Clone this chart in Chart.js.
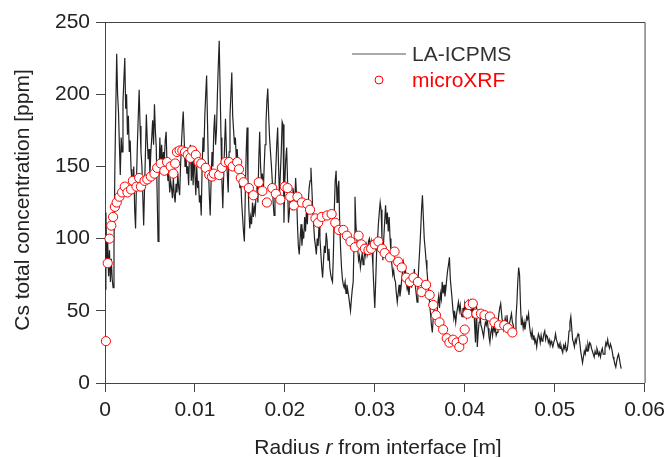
<!DOCTYPE html>
<html>
<head>
<meta charset="utf-8">
<script src="https://cdn.jsdelivr.net/npm/chart.js@4/dist/chart.umd.min.js"></script>
<style>
  html, body { margin: 0; padding: 0; background: #fff; }
  #wrap { position: relative; width: 671px; height: 457px; }
</style>
</head>
<body>
<div id="wrap"><canvas id="csChart" width="671" height="457"></canvas></div>
<script>
// LA-ICPMS profile, sampled every 0.1 mm from the interface (ppm)
const icpStep = 0.0001;
const icpY = [
  65, 118, 84, 98, 74, 92, 70, 86, 72, 66,
  95, 150, 190, 228, 200, 188, 165, 144, 170, 160,
  195, 210, 225, 190, 200, 172, 185, 160, 168, 148,
  140, 135, 150, 120, 107, 140, 165, 185, 203, 178,
  160, 151, 130, 109, 135, 160, 186, 168, 155, 162,
  144, 160, 170, 182, 165, 193, 175, 163, 130, 98,
  140, 170, 152, 165, 150, 160, 155, 168, 174, 150,
  140, 144, 132, 140, 135, 128, 142, 130, 125, 138,
  132, 145, 135, 130, 150, 165, 178, 188, 170, 150,
  158, 145, 150, 137, 160, 165, 140, 155, 137, 160,
  145, 130, 150, 135, 140, 125, 130, 116, 150, 170,
  160, 185, 200, 213, 180, 150, 130, 116, 140, 160,
  150, 175, 186, 165, 175, 200, 220, 237, 204, 170,
  140, 121, 145, 165, 183, 160, 145, 132, 160, 185,
  200, 215, 185, 175, 165, 170, 155, 162, 150, 145,
  135, 140, 125, 115, 105, 98, 130, 160, 177, 140,
  120, 107, 115, 110, 125, 115, 122, 118, 130, 140,
  125, 155, 174, 150, 140, 145, 132, 150, 165, 180,
  195, 204, 185, 170, 160, 151, 140, 125, 116, 135,
  150, 165, 177, 150, 130, 145, 160, 181, 179, 111,
  140, 155, 163, 140, 111, 118, 130, 125, 120, 135,
  130, 125, 142, 130, 110, 95, 89, 100, 110, 95,
  104, 100, 115, 105, 120, 110, 125, 135, 140, 149,
  135, 120, 110, 100, 95, 89, 100, 95, 110, 100,
  90, 80, 73, 85, 95, 90, 104, 98, 85, 93,
  80, 75, 72, 70, 90, 120, 140, 147, 125, 135,
  140, 110, 93, 80, 72, 68, 66, 70, 62, 68,
  64, 60, 55, 50, 58, 65, 70, 100, 129, 110,
  100, 93, 85, 88, 80, 85, 90, 82, 86, 92,
  88, 95, 90, 98, 100, 94, 98, 91, 80, 65,
  52, 70, 90, 98, 110, 118, 125, 120, 100, 85,
  100, 112, 123, 110, 118, 105, 115, 100, 90, 82,
  75, 78, 72, 70, 62, 56, 62, 68, 60, 65,
  72, 78, 83, 75, 80, 70, 65, 68, 61, 68,
  72, 66, 75, 70, 79, 68, 62, 56, 70, 82,
  93, 105, 120, 130, 115, 100, 93, 85, 78, 70,
  65, 55, 48, 40, 35, 45, 51, 44, 50, 46,
  55, 60, 52, 62, 58, 70, 62, 68, 60, 65,
  72, 78, 82, 87, 72, 65, 58, 50, 45, 48,
  42, 48, 52, 56, 50, 54, 48, 46, 52, 48,
  55, 51, 46, 50, 58, 52, 56, 50, 57, 45,
  56, 40, 28, 57, 25, 35, 42, 48, 40, 38,
  35, 32, 38, 42, 40, 45, 38, 32, 28, 35,
  38, 33, 40, 36, 38, 33, 35, 42, 48, 52,
  55, 48, 42, 37, 40, 45, 42, 47, 40, 38,
  42, 45, 48, 42, 40, 36, 37, 45, 55, 70,
  80, 75, 55, 40, 44, 38, 42, 37, 42, 46,
  44, 48, 40, 35, 32, 36, 30, 33, 28, 30,
  25, 30, 34, 32, 28, 33, 29, 30, 34, 36,
  30, 33, 32, 28, 30, 26, 29, 27, 25, 28,
  30, 34, 30, 28, 25, 27, 24, 26, 23, 21,
  26, 24, 27, 22, 23, 28, 36, 42, 46, 38,
  30, 28, 25, 30, 28, 32, 34, 32, 28, 22,
  18, 14, 18, 22, 20, 25, 22, 27, 24, 28,
  27, 24, 22, 20, 18, 22, 20, 24, 22, 19,
  21, 18, 22, 24, 20, 20, 24, 28, 26, 30,
  26, 24, 27, 25, 22, 18, 16, 13, 11, 15,
  18, 20, 17, 13, 10
];

// microXRF spot measurements
const xrfX = [
  0.0001, 0.0003, 0.0005, 0.0007, 0.0009, 0.0011, 0.0013, 0.0016, 0.0019, 0.0022,
  0.0025, 0.0029, 0.0031, 0.0035, 0.0038, 0.0040, 0.0044, 0.0047, 0.0051, 0.0055,
  0.0058, 0.0062, 0.0066, 0.0069, 0.0073, 0.0076, 0.0078, 0.0080, 0.0083, 0.0086,
  0.0089, 0.0092, 0.0095, 0.0097, 0.0101, 0.0104, 0.0107, 0.0112, 0.0116, 0.0119,
  0.0121, 0.0127, 0.0130, 0.0134, 0.0138, 0.0142, 0.0147, 0.0149, 0.0151, 0.0154,
  0.0160, 0.0165, 0.0171, 0.0175, 0.0180, 0.0186, 0.0190, 0.0195, 0.0200, 0.0203,
  0.0206, 0.0210, 0.0214, 0.0219, 0.0225, 0.0228, 0.0234, 0.0237, 0.0241, 0.0247,
  0.0252, 0.0256, 0.0260, 0.0265, 0.0269, 0.0273, 0.0278, 0.0282, 0.0285, 0.0289,
  0.0293, 0.0296, 0.0300, 0.0304, 0.0308, 0.0311, 0.0317, 0.0322, 0.0326, 0.0330,
  0.0335, 0.0339, 0.0343, 0.0348, 0.0352, 0.0357, 0.0361, 0.0365, 0.0368, 0.0372,
  0.0376, 0.0380, 0.0383, 0.0387, 0.0391, 0.0394, 0.0398, 0.0400, 0.0403, 0.0405,
  0.0409, 0.0413, 0.0418, 0.0422, 0.0428, 0.0433, 0.0438, 0.0444, 0.0448, 0.0453
];
const xrfY = [
  29, 83, 100, 109, 115, 122, 125, 129, 132, 136,
  132, 134, 140, 136, 142, 136, 140, 141, 143, 145,
  149, 152, 147, 153, 150, 145, 152, 160, 161, 161,
  160, 158, 156, 161, 158, 153, 152, 149, 144, 143,
  145, 144, 149, 153, 153, 150, 153, 148, 142, 139,
  135, 130, 139, 133, 125, 135, 131, 127, 136, 135,
  129, 123, 129, 125, 124, 120, 114, 111, 115, 116,
  117, 111, 106, 106, 102, 98, 94, 102, 96, 93,
  92, 93, 96, 98, 93, 90, 87, 91, 84, 80,
  73, 70, 73, 70, 63, 68, 61, 54, 47, 42,
  37, 31, 28, 30, 28, 25, 30, 37, 48, 54,
  55, 48, 48, 47, 46, 42, 40, 40, 38, 35
];

const xTicks = [0, 0.01, 0.02, 0.03, 0.04, 0.05, 0.06];
const yTicks = [0, 50, 100, 150, 200, 250];

const fontFamily = '"Liberation Sans", Arial, Helvetica, sans-serif';
const inkColor = '#222222';
const axisColor = '#444444';

const icpPoints = icpY.map((v, i) => ({ x: i * icpStep, y: v }));
const xrfPoints = xrfX.map((x, i) => ({ x: x, y: xrfY[i] }));

// titles, legend and the closing frame lines are drawn by hand
const decorPlugin = {
  id: 'decor',
  afterDraw(chart) {
    const ctx = chart.ctx;
    const area = chart.chartArea;
    ctx.save();
    // top and right frame
    ctx.strokeStyle = axisColor;
    ctx.lineWidth = 1;
    ctx.beginPath();
    ctx.moveTo(area.left, area.top + 0.5);
    ctx.lineTo(area.right + 0.5, area.top + 0.5);
    ctx.lineTo(area.right + 0.5, area.bottom);
    ctx.stroke();

    // y title
    ctx.fillStyle = inkColor;
    ctx.font = '21px ' + fontFamily;
    ctx.textAlign = 'center';
    ctx.textBaseline = 'middle';
    ctx.translate(23, 200);
    ctx.rotate(-Math.PI / 2);
    ctx.fillText('Cs total concentration [ppm]', 0, 0);
    ctx.setTransform(1, 0, 0, 1, 0, 0);

    // x title with italic r
    const parts = [
      { t: 'Radius ', f: '21px ' + fontFamily },
      { t: 'r', f: 'italic 21px ' + fontFamily },
      { t: ' from interface [m]', f: '21px ' + fontFamily }
    ];
    let total = 0;
    parts.forEach(p => { ctx.font = p.f; p.w = ctx.measureText(p.t).width; total += p.w; });
    let cx = 378 - total / 2;
    ctx.textAlign = 'left';
    ctx.textBaseline = 'alphabetic';
    parts.forEach(p => { ctx.font = p.f; ctx.fillText(p.t, cx, 454); cx += p.w; });

    // legend
    ctx.strokeStyle = '#555555';
    ctx.lineWidth = 1.2;
    ctx.beginPath();
    ctx.moveTo(352, 54);
    ctx.lineTo(406, 54);
    ctx.stroke();
    ctx.font = '21px ' + fontFamily;
    ctx.textBaseline = 'middle';
    ctx.fillStyle = '#333333';
    ctx.fillText('LA-ICPMS', 412, 55);
    ctx.beginPath();
    ctx.arc(379, 80, 4, 0, Math.PI * 2);
    ctx.fillStyle = '#ffffff';
    ctx.fill();
    ctx.strokeStyle = '#ff0000';
    ctx.lineWidth = 1;
    ctx.stroke();
    ctx.fillStyle = '#ff0000';
    ctx.fillText('microXRF', 412, 81);
    ctx.restore();
  }
};

new Chart(document.getElementById('csChart').getContext('2d'), {
  type: 'scatter',
  data: {
    datasets: [
      {
        label: 'microXRF',
        data: xrfPoints,
        showLine: false,
        pointRadius: 4.6,
        pointBorderWidth: 1,
        pointBorderColor: '#ff0000',
        pointBackgroundColor: '#ffffff',
        clip: false,
        order: 0
      },
      {
        label: 'LA-ICPMS',
        data: icpPoints,
        showLine: true,
        borderColor: '#222222',
        borderWidth: 1.2,
        pointRadius: 0,
        tension: 0,
        order: 1
      }
    ]
  },
  options: {
    responsive: false,
    animation: false,
    events: [],
    layout: { padding: { left: 0, top: 22, right: 24, bottom: 0 } },
    plugins: { legend: { display: false }, tooltip: { enabled: false } },
    scales: {
      x: {
        type: 'linear',
        min: 0,
        max: 0.06,
        afterFit: s => { s.height = 74; },
        afterBuildTicks: s => { s.ticks = xTicks.map(v => ({ value: v })); },
        ticks: {
          padding: 6,
          color: inkColor,
          font: { family: fontFamily, size: 21 },
          maxRotation: 0,
          callback: v => (v === 0 ? '0' : v.toFixed(2))
        },
        grid: { drawOnChartArea: false, tickLength: 9, color: axisColor },
        border: { color: axisColor }
      },
      y: {
        min: 0,
        max: 250,
        afterFit: s => { s.width = 105; },
        afterBuildTicks: s => { s.ticks = yTicks.map(v => ({ value: v })); },
        ticks: {
          padding: 6,
          color: inkColor,
          font: { family: fontFamily, size: 21 }
        },
        grid: { drawOnChartArea: false, tickLength: 9, color: axisColor },
        border: { color: axisColor }
      }
    }
  },
  plugins: [decorPlugin]
});
</script>
</body>
</html>
